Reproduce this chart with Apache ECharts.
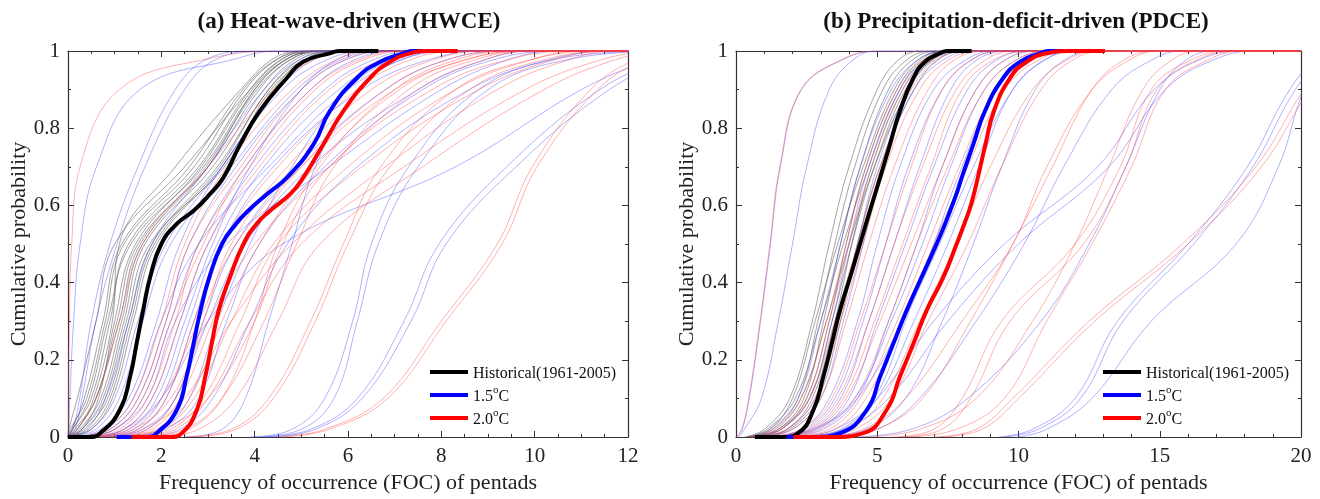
<!DOCTYPE html>
<html><head><meta charset="utf-8">
<script src="https://cdn.jsdelivr.net/npm/echarts@6/dist/echarts.min.js"></script>
<style>html,body{margin:0;padding:0;background:#fff}#c{width:1320px;height:499px}</style>
</head><body><div id="c"></div>
<script>
const FONT = '"Liberation Serif", "Times New Roman", serif';
const panelTitles = ['(a) Heat-wave-driven (HWCE)', '(b) Precipitation-deficit-driven (PDCE)'];
const xAxisName = 'Frequency of occurrence (FOC) of pentads';
const yAxisName = 'Cumulative probability';
const legendNames = ['Historical(1961-2005)', '1.5°C', '2.0°C'];

// probability levels at which the thin model curves were read
const thinP = [0, 0.02, 0.1, 0.3, 0.5, 0.7, 0.9, 0.98, 1];
// probability levels at which the thick ensemble curves were read
const thickP = [0, 0, 0.01, 0.07, 0.156, 0.242, 0.328, 0.414, 0.5, 0.552, 0.586, 0.629, 0.672, 0.758, 0.844, 0.93, 0.972, 0.994, 1, 1];

// (a) HWCE thick curves (FOC at thickP)
const hwceHist = [0, 0.45, 0.69, 1.11, 1.33, 1.47, 1.61, 1.76, 2.0, 2.33, 2.69, 3.04, 3.33, 3.69, 4.11, 4.69, 5.04, 5.61, 5.83, 6.65];
const hwce15 = [1.04, 1.69, 1.9, 2.33, 2.54, 2.69, 2.84, 3.03, 3.3, 3.6, 3.86, 4.26, 4.69, 5.26, 5.61, 6.19, 6.69, 7.19, 7.4, 7.6];
const hwce20 = [1.36, 2.19, 2.44, 2.76, 2.94, 3.08, 3.23, 3.47, 3.76, 4.04, 4.33, 4.76, 5.04, 5.47, 5.9, 6.47, 6.9, 7.33, 7.7, 8.35];

// (b) PDCE thick curves (FOC at thickP)
const pdceHist = [0.67, 1.67, 2.2, 2.74, 3.09, 3.39, 3.68, 4.04, 4.39, 4.6, 4.74, 4.92, 5.1, 5.45, 5.8, 6.28, 6.69, 7.22, 7.46, 8.34];
const pdce15 = [1.79, 2.8, 3.68, 4.63, 5.1, 5.57, 6.04, 6.57, 7.1, 7.4, 7.58, 7.8, 7.99, 8.4, 8.81, 9.46, 10.05, 10.76, 11.1, 11.6];
const pdce20 = [2.03, 3.43, 4.5, 5.33, 5.8, 6.28, 6.75, 7.34, 7.81, 8.08, 8.25, 8.42, 8.56, 8.83, 9.13, 9.7, 10.29, 11.0, 11.8, 13.06];

// (a) HWCE individual models (FOC at thinP)
const hwceHistModels = [
  [0, 0.1, 0.5, 0.9, 1.3, 2.8, 3.9, 4.6, 5.3],
  [0, 0.15, 0.6, 1.05, 1.5, 3.0, 4.1, 4.8, 5.5],
  [0, 0.3, 0.75, 1.2, 1.65, 3.1, 4.2, 4.9, 5.6],
  [0, 0.35, 0.85, 1.3, 1.8, 3.2, 4.3, 5.0, 5.7],
  [0, 0.05, 0.4, 0.8, 1.2, 2.7, 3.8, 4.5, 5.1],
  [0, 0.2, 0.55, 0.95, 1.1, 2.3, 3.7, 4.4, 5.0],
  [0, 0.5, 0.95, 1.4, 1.9, 3.3, 4.4, 5.1, 5.8],
  [0, 0.25, 0.7, 1.15, 1.6, 3.0, 4.0, 4.7, 5.4],
  [0, 0.4, 0.8, 1.25, 1.75, 3.35, 4.35, 5.2, 6.0],
  [0, 0.1, 0.45, 0.85, 1.35, 2.9, 4.0, 4.7, 5.3],
  [0, 0.02, 0.2, 0.6, 1.0, 2.5, 3.9, 4.6, 5.2],
  [0, 0.3, 0.65, 1.0, 1.45, 2.85, 3.95, 4.7, 5.5],
  [0, 0.2, 0.6, 1.1, 1.55, 2.95, 4.05, 4.8, 5.5],
  [0, 0.45, 0.9, 1.35, 1.85, 3.25, 4.3, 5.1, 5.9],
  [0, 0.08, 0.35, 0.75, 1.15, 2.6, 3.75, 4.5, 5.2]
];
const hwce15Models = [
  [0, 0.01, 0.04, 0.12, 0.26, 0.61, 1.54, 3.6, 4.5],
  [0, 0.1, 0.25, 0.5, 0.9, 1.5, 2.3, 3.0, 4.0],
  [0, 0.15, 0.3, 0.6, 1.05, 1.65, 2.5, 3.2, 4.2],
  [0, 0.3, 0.8, 1.3, 1.8, 3.0, 4.2, 5.0, 5.8],
  [0, 0.5, 1.0, 1.5, 2.1, 3.3, 4.5, 5.3, 6.0],
  [0.3, 0.9, 1.5, 2.1, 2.6, 3.6, 5.0, 6.0, 7.0],
  [0.5, 1.2, 1.8, 2.4, 3.0, 4.0, 5.5, 6.6, 7.5],
  [0.2, 0.8, 1.4, 2.0, 2.8, 4.3, 6.0, 7.2, 8.0],
  [0.8, 1.5, 2.1, 2.7, 3.3, 4.4, 6.3, 7.8, 9.0],
  [1.0, 1.7, 2.3, 3.0, 3.8, 5.2, 7.5, 9.0, 10.0],
  [0.4, 1.0, 1.7, 2.3, 3.4, 5.6, 8.0, 9.5, 10.5],
  [0.5, 1.2, 2.0, 3.0, 4.6, 8.3, 11.0, 12.5, 13.0],
  [2.5, 3.3, 3.8, 4.3, 4.8, 5.3, 6.2, 7.2, 8.5],
  [3.9, 4.8, 5.5, 6.1, 6.5, 7.3, 8.8, 10.5, 12.5],
  [4.0, 5.0, 5.7, 6.2, 6.65, 7.5, 9.0, 10.8, 12.8],
  [4.2, 5.2, 6.2, 7.2, 7.95, 9.4, 11.4, 12.8, 13.5],
  [4.3, 5.3, 6.3, 7.35, 8.1, 9.6, 11.6, 13.0, 13.8],
  [1.2, 2.0, 2.6, 3.2, 3.9, 4.8, 6.0, 7.0, 8.0],
  [0.6, 1.3, 1.9, 2.5, 3.1, 3.9, 5.0, 5.8, 6.6],
  [0.3, 1.0, 1.6, 2.2, 2.8, 3.8, 5.2, 6.2, 7.2],
  [0.7, 1.4, 2.0, 2.6, 3.2, 4.2, 5.8, 7.0, 8.2],
  [0.9, 1.6, 2.3, 2.9, 3.6, 4.9, 6.8, 8.2, 9.5],
  [1.3, 2.1, 2.8, 3.4, 4.1, 5.5, 7.6, 9.2, 10.6],
  [0.2, 0.7, 1.3, 1.9, 2.4, 3.3, 4.6, 5.6, 6.5],
  [1.6, 2.4, 3.1, 3.9, 4.7, 6.2, 8.6, 10.4, 11.8],
  [0.1, 0.6, 1.1, 1.6, 2.2, 3.5, 4.9, 5.9, 6.8]
];
const hwce20Models = [
  [0, 0.005, 0.01, 0.03, 0.08, 0.26, 1.1, 3.0, 4.7],
  [0, 0.2, 0.6, 1.1, 1.6, 3.0, 4.4, 5.3, 6.0],
  [0.2, 0.9, 1.5, 2.1, 2.6, 3.7, 5.0, 6.0, 7.0],
  [0.5, 1.2, 1.8, 2.4, 3.0, 4.1, 5.6, 6.8, 7.8],
  [0.7, 1.5, 2.1, 2.7, 3.3, 4.5, 6.2, 7.4, 8.5],
  [1.0, 1.8, 2.4, 3.1, 3.8, 5.0, 6.8, 8.2, 9.5],
  [0.6, 1.4, 2.2, 3.0, 4.0, 5.6, 7.5, 9.0, 10.0],
  [1.2, 2.0, 2.7, 3.5, 4.4, 6.0, 8.3, 10.0, 11.0],
  [0.8, 1.6, 2.5, 3.5, 4.8, 6.8, 9.2, 10.8, 11.8],
  [1.5, 2.3, 3.0, 3.9, 5.0, 7.2, 9.8, 11.5, 12.5],
  [1.0, 2.0, 3.0, 4.0, 4.6, 5.6, 7.8, 9.5, 11.0],
  [4.5, 5.5, 6.75, 8.0, 9.2, 9.95, 11.2, 12.2, 13.0],
  [4.6, 5.6, 6.85, 8.1, 9.3, 10.05, 11.35, 12.4, 13.2],
  [2.5, 3.5, 4.3, 5.2, 5.9, 6.7, 8.3, 10.0, 11.5],
  [2.6, 3.6, 4.4, 5.3, 6.0, 6.9, 8.6, 10.3, 11.8],
  [1.5, 2.5, 3.3, 4.2, 4.9, 5.7, 7.3, 8.8, 10.0],
  [0.3, 1.0, 1.6, 2.2, 2.9, 3.8, 5.2, 6.3, 7.2],
  [1.8, 2.6, 3.3, 4.0, 4.5, 5.4, 7.0, 8.4, 9.6],
  [0.4, 1.1, 1.7, 2.3, 2.8, 3.9, 5.3, 6.4, 7.4],
  [0.9, 1.7, 2.3, 2.9, 3.5, 4.7, 6.5, 7.9, 9.0],
  [1.1, 1.9, 2.6, 3.3, 4.1, 5.3, 7.1, 8.6, 10.0],
  [1.4, 2.2, 2.9, 3.7, 4.5, 6.3, 8.8, 10.5, 11.6],
  [0.5, 1.3, 2.0, 2.8, 3.6, 5.0, 7.0, 8.6, 9.8],
  [2.0, 2.8, 3.6, 4.5, 5.4, 7.6, 10.2, 11.8, 12.8],
  [0.2, 0.8, 1.4, 2.0, 2.5, 3.4, 4.8, 5.8, 6.6]
];

// (b) PDCE individual models (FOC at thinP)
const pdceHistModels = [
  [0.5, 1.3, 2.2, 2.9, 3.5, 4.2, 5.2, 6.1, 7.0],
  [0.6, 1.5, 2.4, 3.1, 3.7, 4.4, 5.4, 6.3, 7.2],
  [0.4, 1.2, 2.0, 2.8, 3.6, 4.5, 5.6, 6.5, 7.4],
  [0.7, 1.6, 2.5, 3.3, 3.9, 4.6, 5.7, 6.6, 7.5],
  [0.8, 1.8, 2.7, 3.5, 4.1, 4.8, 5.9, 6.8, 7.8],
  [0.5, 1.4, 2.3, 3.2, 4.0, 4.9, 6.1, 7.0, 8.0],
  [0.9, 1.9, 2.9, 3.7, 4.3, 5.1, 6.3, 7.2, 8.2],
  [0.3, 1.0, 1.9, 2.7, 3.3, 4.0, 5.0, 5.8, 6.6],
  [0.6, 1.6, 2.6, 3.4, 4.1, 4.9, 6.0, 7.0, 7.9],
  [0.4, 1.1, 2.1, 3.0, 3.8, 4.7, 5.8, 6.7, 7.6]
];
const pdce15Models = [
  [0.02, 0.22, 0.47, 0.87, 1.22, 1.57, 2.32, 3.85, 5.1],
  [0.1, 0.3, 0.9, 1.5, 2.0, 2.5, 3.3, 4.2, 5.0],
  [0.5, 1.5, 2.6, 3.4, 4.0, 4.7, 5.8, 6.8, 7.8],
  [0.8, 2.0, 3.0, 3.8, 4.5, 5.2, 6.3, 7.4, 8.5],
  [1.0, 2.3, 3.3, 4.3, 5.0, 5.8, 7.0, 8.2, 9.2],
  [1.2, 2.6, 3.7, 4.7, 5.6, 6.5, 7.6, 8.6, 9.8],
  [1.5, 2.9, 4.0, 5.0, 6.0, 7.0, 8.2, 9.3, 10.5],
  [1.0, 2.7, 4.2, 5.5, 6.6, 7.6, 8.8, 10.0, 11.2],
  [2.0, 3.5, 5.0, 7.0, 9.5, 12.8, 14.8, 16.5, 18.0],
  [2.2, 3.8, 5.4, 7.5, 10.0, 13.2, 15.2, 17.0, 18.5],
  [9.3, 10.5, 12.0, 13.5, 16.0, 18.1, 19.6, 20.6, 21.5],
  [9.5, 10.7, 12.2, 13.7, 16.2, 18.3, 19.8, 20.8, 21.7],
  [10.0, 11.0, 12.6, 14.7, 17.7, 19.2, 20.1, 20.8, 21.5],
  [3.5, 5.0, 6.5, 8.5, 10.2, 11.6, 13.3, 14.8, 15.8],
  [4.0, 6.2, 8.2, 10.8, 12.5, 13.8, 15.0, 16.0, 17.0],
  [2.5, 3.8, 5.0, 6.3, 7.5, 8.6, 9.8, 11.0, 12.0],
  [3.0, 4.6, 6.0, 7.3, 8.4, 9.4, 10.6, 11.7, 12.8],
  [0.7, 1.8, 2.8, 3.6, 4.3, 5.0, 6.1, 7.1, 8.2],
  [1.1, 2.4, 3.5, 4.5, 5.3, 6.1, 7.3, 8.4, 9.5],
  [1.8, 3.1, 4.3, 5.4, 6.4, 7.3, 8.5, 9.6, 10.8],
  [2.4, 3.7, 4.9, 6.0, 7.0, 8.0, 9.2, 10.4, 11.5],
  [0.4, 1.2, 2.2, 3.0, 3.7, 4.4, 5.5, 6.5, 7.5],
  [1.3, 2.8, 4.3, 5.9, 7.2, 8.4, 9.8, 11.0, 12.2]
];
const pdce20Models = [
  [0, 0.2, 0.45, 0.85, 1.2, 1.55, 2.3, 3.8, 5.0],
  [0.5, 1.5, 2.5, 3.3, 4.0, 4.8, 5.9, 7.0, 8.0],
  [0.8, 2.0, 3.0, 3.9, 4.7, 5.6, 6.8, 7.8, 9.0],
  [1.0, 2.3, 3.4, 4.4, 5.3, 6.2, 7.3, 8.4, 9.5],
  [1.3, 2.7, 3.8, 4.9, 5.9, 6.9, 8.0, 9.2, 10.5],
  [1.8, 3.0, 4.2, 5.4, 6.4, 7.5, 8.8, 10.0, 11.2],
  [2.2, 3.5, 4.6, 5.9, 7.0, 8.2, 9.5, 10.8, 12.0],
  [2.5, 4.0, 5.2, 6.5, 7.8, 9.0, 10.5, 11.8, 13.0],
  [5.5, 7.0, 8.0, 9.4, 12.0, 13.6, 14.7, 16.2, 17.5],
  [5.8, 7.3, 8.3, 9.7, 12.3, 13.8, 14.9, 16.4, 17.8],
  [6.0, 7.8, 9.5, 11.0, 12.6, 14.0, 15.2, 16.8, 18.0],
  [3.0, 4.5, 6.0, 8.0, 9.8, 11.0, 12.6, 14.0, 15.0],
  [4.5, 6.5, 8.5, 10.5, 12.0, 13.2, 14.4, 15.5, 16.5],
  [7.0, 8.5, 9.8, 12.5, 15.8, 18.4, 20.1, 21.0, 21.5],
  [7.2, 8.7, 10.0, 12.7, 16.0, 18.6, 20.3, 21.2, 21.7],
  [0.6, 1.6, 2.6, 3.5, 4.3, 5.1, 6.2, 7.2, 8.3],
  [1.5, 2.8, 3.9, 5.1, 6.2, 7.3, 8.5, 9.6, 10.8],
  [0.7, 1.8, 2.8, 3.7, 4.5, 5.3, 6.5, 7.6, 8.7],
  [1.1, 2.5, 3.6, 4.7, 5.6, 6.6, 7.8, 8.9, 10.0],
  [2.0, 3.3, 4.4, 5.7, 6.8, 7.9, 9.2, 10.4, 11.6],
  [2.8, 4.2, 5.5, 6.8, 8.2, 9.4, 10.8, 12.0, 13.2],
  [0.4, 1.3, 2.3, 3.2, 3.9, 4.6, 5.7, 6.7, 7.7],
  [3.5, 5.0, 6.6, 8.3, 9.8, 11.2, 12.6, 13.8, 15.0]
];

// axis settings per panel
const xMax = [12, 20];
const xInterval = [2, 5];
const xMinorSplit = [4, 5];

const COL_GRAY = 'rgba(90,90,90,0.55)';
const COL_BLUE = 'rgba(70,70,255,0.42)';
const COL_RED = 'rgba(255,70,70,0.42)';
const AX = '#333';

function thinSeries(list, color, idx) {
  return list.map(xs => {
    const d = xs.map((x, i) => [x, thinP[i]]);
    if (xs[xs.length - 1] < xMax[idx]) d.push([xMax[idx], 1]);
    return {
      type: 'line', xAxisIndex: idx * 2, yAxisIndex: idx * 2, data: d,
      smooth: 0.4, symbol: 'none', silent: true, z: 2,
      lineStyle: { color: color, width: 1 }, emphasis: { disabled: true }
    };
  });
}
function thickSeries(xs, name, color, idx, z) {
  return {
    type: 'line', name: name, xAxisIndex: idx * 2, yAxisIndex: idx * 2,
    data: xs.map((x, i) => [x, thickP[i]]), smooth: 0.5, symbol: 'none', showSymbol: false, z: z,
    color: color, lineStyle: { color: color, width: 4 }, emphasis: { disabled: true }
  };
}

const grids = [
  { left: 68, top: 51, width: 560, height: 388 },
  { left: 736, top: 51, width: 565, height: 388 }
];

const xAxes = [], yAxes = [];
[0, 1].forEach(i => {
  const common = {
    gridIndex: i, type: 'value', min: 0, max: xMax[i], interval: xInterval[i],
    axisLine: { show: true, onZero: false, lineStyle: { color: AX, width: 1.2 } },
    axisTick: { show: true, inside: true, length: 6, lineStyle: { color: AX } },
    minorTick: { show: true, splitNumber: xMinorSplit[i], length: 3, lineStyle: { color: AX } },
    splitLine: { show: false }
  };
  xAxes.push(Object.assign({}, common, {
    position: 'bottom',
    axisLabel: { color: '#222', fontSize: 21, fontFamily: FONT, margin: 9 },
    name: xAxisName, nameLocation: 'middle', nameGap: 35,
    nameTextStyle: { color: '#222', fontSize: 22, fontFamily: FONT }
  }));
  xAxes.push(Object.assign({}, common, { position: 'top', axisLabel: { show: false } }));
  const ycommon = {
    gridIndex: i, type: 'value', min: 0, max: 1, interval: 0.2,
    axisLine: { show: true, onZero: false, lineStyle: { color: AX, width: 1.2 } },
    axisTick: { show: true, inside: true, length: 6, lineStyle: { color: AX } },
    minorTick: { show: true, splitNumber: 2, length: 3, lineStyle: { color: AX } },
    splitLine: { show: false }
  };
  yAxes.push(Object.assign({}, ycommon, {
    position: 'left',
    axisLabel: { color: '#222', fontSize: 21, fontFamily: FONT, margin: 8 },
    name: yAxisName, nameLocation: 'middle', nameGap: 37,
    nameTextStyle: { color: '#222', fontSize: 22, fontFamily: FONT }
  }));
  yAxes.push(Object.assign({}, ycommon, { position: 'right', axisLabel: { show: false } }));
});

const series = [].concat(
  thinSeries(hwceHistModels, COL_GRAY, 0),
  thinSeries(hwce15Models, COL_BLUE, 0),
  thinSeries(hwce20Models, COL_RED, 0),
  thinSeries(pdceHistModels, COL_GRAY, 1),
  thinSeries(pdce15Models, COL_BLUE, 1),
  thinSeries(pdce20Models, COL_RED, 1),
  [
    thickSeries(hwceHist, legendNames[0], '#000000', 0, 10),
    thickSeries(hwce15, legendNames[1], '#0000ff', 0, 11),
    thickSeries(hwce20, legendNames[2], '#ff0000', 0, 12),
    thickSeries(pdceHist, legendNames[0], '#000000', 1, 10),
    thickSeries(pdce15, legendNames[1], '#0000ff', 1, 11),
    thickSeries(pdce20, legendNames[2], '#ff0000', 1, 12)
  ]
);

function legendFmt(name) {
  if (name === '1.5°C') return '{t|1.5}{s|o}{t|C}';
  if (name === '2.0°C') return '{t|2.0}{s|o}{t|C}';
  return '{t|' + name + '}';
}
const legendText = {
  fontFamily: FONT, fontSize: 16, color: '#111',
  rich: {
    t: { fontFamily: FONT, fontSize: 16, color: '#111', lineHeight: 20, verticalAlign: 'bottom' },
    s: { fontFamily: FONT, fontSize: 11, color: '#111', lineHeight: 11, verticalAlign: 'top' }
  }
};
const legends = [430, 1103].map(left => ({
  data: legendNames, orient: 'vertical', left: left, top: 366,
  icon: 'rect', itemWidth: 38, itemHeight: 4, itemGap: 3, padding: 0,
  textStyle: legendText, formatter: legendFmt, selectedMode: false
}));

const chart = echarts.init(document.getElementById('c'), null, { renderer: 'canvas' });
chart.setOption({
  animation: false,
  backgroundColor: '#ffffff',
  grid: grids,
  xAxis: xAxes,
  yAxis: yAxes,
  legend: legends,
  graphic: [
    { type: 'text', x: 349, y: 22, style: { text: panelTitles[0], fontFamily: FONT, fontWeight: 'bold', fontSize: 23, fill: '#111', align: 'center', verticalAlign: 'middle' } },
    { type: 'text', x: 1016, y: 22, style: { text: panelTitles[1], fontFamily: FONT, fontWeight: 'bold', fontSize: 23, fill: '#111', align: 'center', verticalAlign: 'middle' } }
  ],
  series: series
});
</script>
</body></html>
